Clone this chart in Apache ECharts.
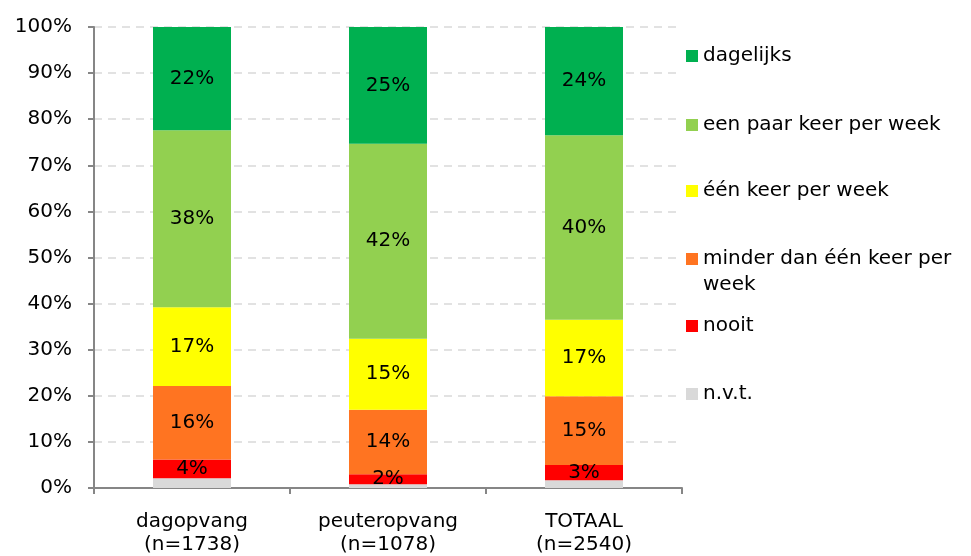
<!DOCTYPE html>
<html>
<head>
<meta charset="utf-8">
<script src="https://cdn.jsdelivr.net/npm/echarts@6/dist/echarts.min.js"></script>
<style>
  html, body { margin: 0; padding: 0; background: #fff; }
  #chart { width: 971px; height: 556px; }
</style>
</head>
<body>
<div id="chart"></div>
<script>
const categories = ['dagopvang\n(n=1738)', 'peuteropvang\n(n=1078)', 'TOTAAL\n(n=2540)'];
const seriesNames = ['n.v.t.', 'nooit', 'minder dan één keer per week', 'één keer per week', 'een paar keer per week', 'dagelijks'];
const colors = ['#d9d9d9', '#ff0000', '#ff7421', '#ffff00', '#92d050', '#00b050'];
const nvt = [2.1, 0.8, 1.7];
const nooit = [4.1, 2.2, 3.3];
const minder = [15.9, 14.0, 14.9];
const eenKeer = [17.1, 15.4, 16.6];
const paarKeer = [38.4, 42.3, 40.0];
const dagelijks = [22.4, 25.3, 23.5];
const yTicks = ['0%', '10%', '20%', '30%', '40%', '50%', '60%', '70%', '80%', '90%', '100%'];

const values = [nvt, nooit, minder, eenKeer, paarKeer, dagelijks];
const font = 'DejaVu Sans';
const fs = 20;

const chart = echarts.init(document.getElementById('chart'));

const series = seriesNames.map((name, i) => ({
  name: name,
  type: 'bar',
  stack: 'total',
  barWidth: 78,
  data: values[i],
  itemStyle: { color: colors[i] },
  label: {
    show: i > 0,
    position: 'inside',
    color: '#000',
    fontFamily: font,
    fontSize: fs,
    formatter: p => Math.round(p.value) + '%'
  }
}));

// legend entries stacked top-down, each with its own vertical position
const legendTops = [56, 125, 191, 259, 326, 394];
const legendOrder = [5, 4, 3, 2, 1, 0];
const legends = legendOrder.map((idx, k) => ({
  data: [seriesNames[idx]],
  left: 686,
  top: legendTops[k] - 12,
  padding: 0,
  itemWidth: 12,
  itemHeight: 12,
  itemGap: 0,
  icon: 'rect',
  selectedMode: false,
  formatter: n => n === 'minder dan één keer per week' ? 'minder dan één keer per' : n,
  textStyle: {
    fontFamily: font,
    fontSize: fs,
    color: '#000',
    lineHeight: 24
  }
}));

chart.setOption({
  animation: false,
  legend: legends,
  graphic: [{
    type: 'text',
    left: 703,
    top: 275,
    style: { text: 'week', fontFamily: font, fontSize: fs, fill: '#000' }
  }],
  grid: { left: 94, right: 289, top: 27, bottom: 66 },
  xAxis: {
    type: 'category',
    data: categories,
    axisLine: { lineStyle: { color: '#868686', width: 2 } },
    axisTick: { show: true, length: 6, lineStyle: { color: '#868686', width: 2 } },
    axisLabel: {
      color: '#000',
      fontFamily: font,
      fontSize: fs,
      lineHeight: 23,
      margin: 22
    }
  },
  yAxis: {
    type: 'value',
    min: 0,
    max: 100,
    interval: 10,
    axisLine: { show: true, lineStyle: { color: '#868686', width: 2 } },
    axisTick: { show: true, length: 6, lineStyle: { color: '#868686', width: 2 } },
    splitLine: { lineStyle: { color: '#d9d9d9', type: [8, 6], width: 1.5 } },
    axisLabel: {
      color: '#000',
      fontFamily: font,
      fontSize: fs,
      margin: 22,
      formatter: v => yTicks[Math.round(v / 10)]
    }
  },
  series: series
});
</script>
</body>
</html>
